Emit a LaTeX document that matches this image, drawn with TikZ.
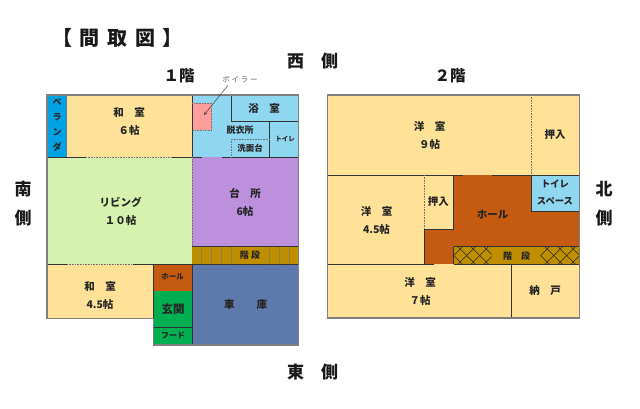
\documentclass[tikz,border=0pt]{standalone}
\usepackage{fontspec}
\setmainfont{Noto Sans CJK JP}
\definecolor{cyel}{HTML}{FFE298}
\definecolor{cblu}{HTML}{8FD6F1}
\definecolor{cvrd}{HTML}{00A2E4}
\definecolor{cpnk}{HTML}{FF9C9C}
\definecolor{cgrn}{HTML}{D5F3AF}
\definecolor{cpur}{HTML}{BD90DE}
\definecolor{cstr}{HTML}{BF8F00}
\definecolor{corg}{HTML}{C55A11}
\definecolor{cgen}{HTML}{00B050}
\definecolor{cgar}{HTML}{5E7AAD}
\definecolor{cwall}{HTML}{7F7F7F}
\tikzset{
  wall/.style={draw=black!80,line width=0.7pt},
  outer/.style={draw=cwall,line width=1.1pt},
  dot/.style={draw=black!55,line width=0.6pt,densely dotted},
  lab/.style={font=\bfseries\fontsize{10.5}{18}\selectfont,align=center,inner sep=0pt,text=black!85},
  smalllab/.style={font=\bfseries\fontsize{9}{17}\selectfont,align=center,inner sep=0pt,text=black!85},
  tinylab/.style={font=\bfseries\fontsize{7.5}{14}\selectfont,align=center,inner sep=0pt,text=black!85},
  head/.style={font=\bfseries\fontsize{17}{29}\selectfont,align=center,inner sep=0pt,text=black!90},
  hatch/.style={draw=black!85,line width=0.5pt}
}
\begin{document}
\begin{tikzpicture}[x=1pt,y=-1pt]
\useasboundingbox (0,0) rectangle (640,408);
% --- 1F fills
\fill[cvrd] (47,95) rectangle (66.5,157.3);
\fill[cyel] (66.5,95) rectangle (192.3,157.3);
\fill[cblu] (192.3,95) rectangle (298.7,157.3);
\fill[cpnk] (192.3,103.3) rectangle (211.6,130.3);
\fill[cgrn] (47,157.3) rectangle (192.3,264.3);
\fill[cpur] (192.3,157.3) rectangle (298.7,246.7);
\fill[cstr] (192.3,246.7) rectangle (298.7,264.3);
\fill[cyel] (47,264.3) rectangle (153.3,318.3);
\fill[corg] (153.3,264.3) rectangle (192.3,291.3);
\fill[cgen] (153.3,291.3) rectangle (192.3,345);
\fill[cgar] (192.3,264.3) rectangle (298.7,345);
% --- 1F inner lines
\draw[wall] (47,157.3) -- (86,157.3);
\draw[dot] (86,157.3) -- (172,157.3);
\draw[wall] (172,157.3) -- (202,157.3);
\draw[wall] (221.5,157.3) -- (298.7,157.3);
\draw[dot] (66.5,95) -- (66.5,157.3);
\draw[wall] (192.3,95) -- (192.3,157.3);
\draw[dot] (192.3,157.3) -- (192.3,246.7);
\draw[wall] (192.3,246.7) -- (298.7,246.7);
\draw[wall] (47,264.3) -- (67,264.3);
\draw[dot] (67,264.3) -- (133,264.3);
\draw[wall] (133,264.3) -- (298.7,264.3);
\draw[wall] (153.3,264.3) -- (153.3,345);
\draw[wall] (192.3,264.3) -- (192.3,345);
\draw[wall] (153.3,327) -- (192.3,327);
\draw[wall] (231,95) -- (231,121.7) -- (298.7,121.7);
\draw[wall] (269.7,121.7) -- (269.7,157.3);
\draw[dot] (231,157.3) -- (231,139.3) -- (269.7,139.3);
\draw[dot] (192.3,103.3) -- (211.6,103.3) -- (211.6,130.3) -- (192.3,130.3);
\foreach \sx in {201.7,211.7,221.7,231.7,269.3,279.3,289.3}
  \draw[dot] (\sx,246.7) -- (\sx,264.3);
% --- 1F outline
\draw[outer] (47,95) -- (298.7,95) -- (298.7,345) -- (153.3,345) -- (153.3,318.3) -- (47,318.3) -- cycle;
% --- 2F fills
\fill[cyel] (327.7,95) rectangle (579.3,175);
\fill[cyel] (327.7,175) rectangle (424.3,264.3);
\fill[cyel] (424.3,175) rectangle (453.5,229);
\fill[corg] (453.5,175) rectangle (579.3,246.7);
\fill[corg] (424.3,229) rectangle (453.5,264.3);
\fill[cblu] (531,175) rectangle (579.3,211);
\fill[cstr] (453.5,246.7) rectangle (579.3,264.3);
\fill[cyel] (327.7,264.3) rectangle (579.3,318);
% --- 2F stair hatch
\begin{scope}
  \clip (453.5,246.7) rectangle (491.7,264.3);
  \foreach \hx in {-8,5,...,100} {
    \draw[hatch] (440+\hx,246.7) -- (457.6+\hx,264.3);
    \draw[hatch] (457.6+\hx,246.7) -- (440+\hx,264.3);
  }
\end{scope}
\begin{scope}
  \clip (540.7,246.7) rectangle (579.3,264.3);
  \foreach \hx in {-8,5,...,100} {
    \draw[hatch] (527+\hx,246.7) -- (544.6+\hx,264.3);
    \draw[hatch] (544.6+\hx,246.7) -- (527+\hx,264.3);
  }
\end{scope}
% --- 2F inner lines
\draw[dot] (531,95) -- (531,175);
\draw[wall] (327.7,175) -- (463.3,175);
\draw[wall] (491.7,175) -- (579.3,175);
\draw[wall] (531,175) -- (531,211) -- (579.3,211);
\draw[dot] (424.3,175) -- (424.3,229);
\draw[wall] (424.3,229) -- (453.5,229);
\draw[wall] (453.5,175) -- (453.5,229);
\draw[wall] (453.5,246.7) -- (453.5,264.3);
\draw[wall] (424.3,229) -- (424.3,264.3);
\draw[wall] (453.5,246.7) -- (579.3,246.7);
\draw[wall] (327.7,264.3) -- (434,264.3);
\draw[wall] (453.5,264.3) -- (579.3,264.3);
\draw[wall] (511.7,264.3) -- (511.7,318);
% --- 2F outline
\draw[outer] (327.7,95) rectangle (579.3,318);
% --- 1F labels
\node[smalllab,font=\bfseries\fontsize{9}{15.3}\selectfont] (veranda) at (57,125) {ベ\\ラ\\ン\\ダ};
\node[lab] (wa6) at (129,121.5) {和　室\\６帖};
\node[lab] (living) at (120.5,211) {リビング\\１０帖};
\node[lab] (kitchen) at (245,202) {台　所\\6帖};
\node[smalllab] (stair1) at (250,255.3) {階 段};
\node[lab] (wa45) at (100,296) {和　室\\4.5帖};
\node[tinylab] (hall1) at (172.7,277) {ホール};
\node[lab,font=\bfseries\fontsize{11.5}{13}\selectfont] (genkan) at (173,309) {玄関};
\node[smalllab,font=\bfseries\fontsize{8}{9}\selectfont] (hood) at (173,335.7) {フード};
\node[lab] (garage) at (245.6,305) {車\hspace{22pt}庫};
\node[lab] (bath) at (264,108.7) {浴　室};
\node[smalllab] (datsui) at (240,130) {脱衣所};
\node[smalllab,font=\bfseries\fontsize{8.5}{10}\selectfont] (senmen) at (250,148) {洗面台};
\node[tinylab,font=\bfseries\fontsize{6.5}{8}\selectfont] (toilet1) at (285,139.3) {トイレ};
\node[tinylab,font=\fontsize{7.5}{9}\selectfont,text=black!60] (boiler) at (240,79.3) {ボ イ ラ ー};
\coordinate (boilertip) at (204,115);
\draw[-stealth,line width=0.5pt,black!75] (boiler) ++(-12,6) -- (boilertip);
% --- 2F labels
\node[lab] (yo9) at (429.5,135.5) {洋　室\\９帖};
\node[lab] (osh1) at (555,135) {押入};
\node[lab] (yo45) at (376.5,220) {洋　室\\4.5帖};
\node[lab] (osh2) at (438.3,201.7) {押入};
\node[lab] (hall2) at (492.7,215) {ホール};
\node[smalllab,font=\bfseries\fontsize{9.3}{17}\selectfont] (tspace) at (555,192.8) {トイレ\\スペース};
\node[smalllab] (stair2) at (516.7,256) {階　段};
\node[lab] (yo7) at (420,291.5) {洋　室\\７帖};
\node[lab] (nando) at (545,291) {納　戸};
% --- Headings
\node[head,font=\bfseries\fontsize{20}{22}\selectfont] (title) at (117,37.5) {【\hspace{7pt}間\hspace{8pt}取\hspace{8pt}図\hspace{7pt}】};
\node[head,font=\bfseries\fontsize{15.5}{18}\selectfont] (f1) at (179,75.7) {１階};
\node[head,font=\bfseries\fontsize{15.5}{18}\selectfont] (f2) at (450,75.7) {２階};
\node[head] (west) at (312.5,61) {西　側};
\node[head] (east) at (312.5,372) {東　側};
\node[head] (south) at (23,204) {南\\側};
\node[head] (north) at (604,204) {北\\側};
\end{tikzpicture}
\end{document}
